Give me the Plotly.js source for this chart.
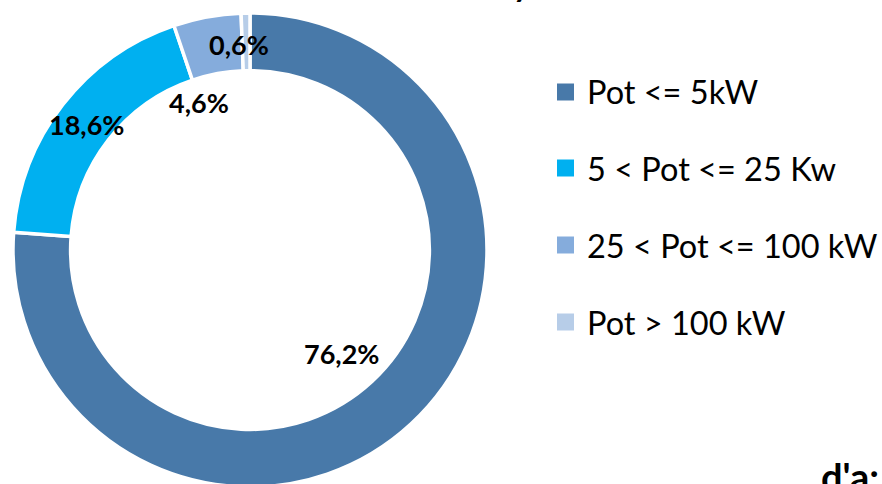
<!DOCTYPE html>
<html>
<head>
<meta charset="utf-8">
<script src="https://cdn.plot.ly/plotly-3.0.1.min.js"></script>
<style>
html,body{margin:0;padding:0;overflow:hidden;background:#fff;}
#chart{width:882px;height:500px;}
</style>
</head>
<body>
<div id="chart"></div>
<script>
const labels = ["Pot <= 5kW", "5 < Pot <= 25 Kw", "25 < Pot <= 100 kW", "Pot > 100 kW"];
const values = [76.2, 18.6, 4.6, 0.6];
const colors = ["#4879A9", "#00B0F0", "#85ACDC", "#B7CDE8"];

const W = 882, H = 500;
const px = x => x / W;
const py = y => 1 - y / H;

const fmt = v => v.toFixed(1).replace('.', ',') + '%';

// label positions (layout only)
const labelPos = [[341, 353], [86, 124], [199, 103], [239, 45]];

const annotations = [];
const shapes = [];
values.forEach((v, i) => {
  annotations.push({
    x: px(labelPos[i][0]), y: py(labelPos[i][1]), xref: 'paper', yref: 'paper',
    text: '<b>' + fmt(v) + '</b>', showarrow: false,
    font: {family: 'Lato, Carlito, sans-serif', size: 27, color: '#000'},
    xanchor: 'center', yanchor: 'middle'
  });
});

// legend drawn as shapes + text
const legY = [92, 168, 245, 322];
labels.forEach((lab, i) => {
  shapes.push({
    type: 'rect', xref: 'paper', yref: 'paper',
    x0: px(557), x1: px(574), y0: py(legY[i] + 8.5), y1: py(legY[i] - 8.5),
    fillcolor: colors[i], line: {width: 0}
  });
  annotations.push({
    x: px(585), y: py(legY[i]), xref: 'paper', yref: 'paper',
    text: lab, showarrow: false, xanchor: 'left', yanchor: 'middle',
    font: {family: 'Lato, Carlito, sans-serif', size: 32.5, color: '#000'}
  });
});

// cut-off text fragments from surrounding page
annotations.push({
  x: px(521), y: py(6), xref: 'paper', yref: 'paper', text: '<b>y</b>',
  showarrow: false, xanchor: 'center', yanchor: 'bottom',
  font: {family: 'Lato, sans-serif', size: 32, color: '#000'}
});
annotations.push({
  x: px(819), y: py(501), xref: 'paper', yref: 'paper', text: "<b>d'a:</b>",
  showarrow: false, xanchor: 'left', yanchor: 'bottom',
  font: {family: 'Lato, sans-serif', size: 38, color: '#000'}
});

const data = [{
  type: 'pie',
  labels: labels,
  values: values,
  hole: 0.757,
  sort: false,
  direction: 'clockwise',
  rotation: 0,
  textinfo: 'none',
  marker: {colors: colors, line: {color: '#ffffff', width: 3.5}},
  domain: {x: [px(13), px(487)], y: [py(487), py(13)]},
  showlegend: false,
  hoverinfo: 'label+percent'
}];

const layout = {
  width: W, height: H,
  margin: {l: 0, r: 0, t: 0, b: 0},
  paper_bgcolor: '#ffffff',
  plot_bgcolor: '#ffffff',
  showlegend: false,
  annotations: annotations,
  shapes: shapes
};

Plotly.newPlot('chart', data, layout, {displayModeBar: false, staticPlot: true});
</script>
</body>
</html>
